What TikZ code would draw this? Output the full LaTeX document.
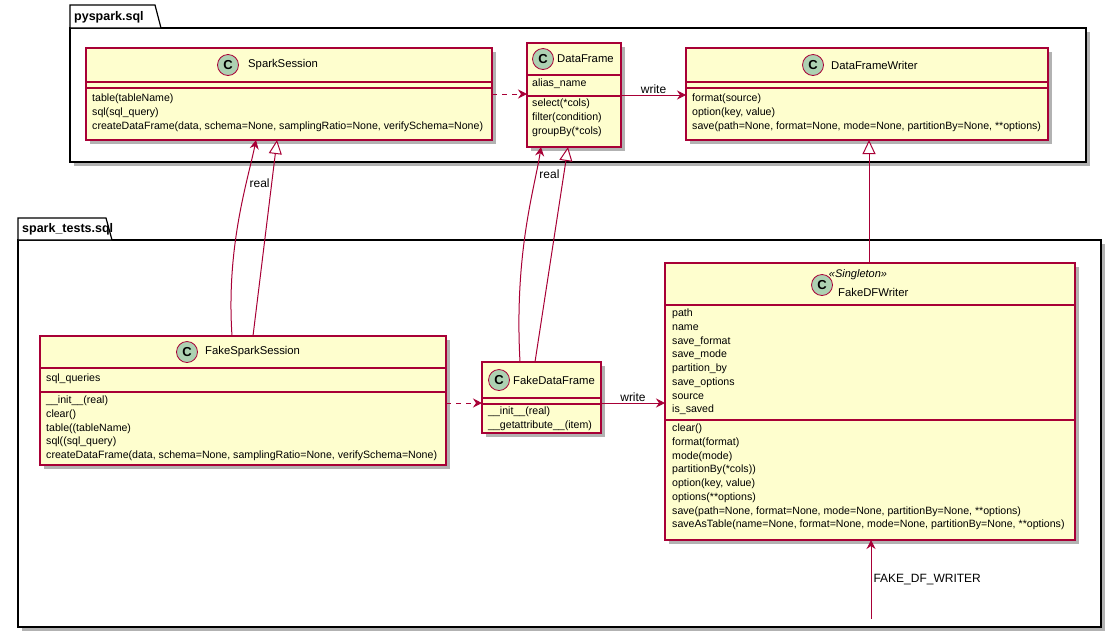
\documentclass[tikz,border=0pt]{standalone}
\usepackage{fontspec}
\setmainfont{Liberation Sans}
\usetikzlibrary{arrows.meta,calc}

\definecolor{umlred}{HTML}{A80036}
\definecolor{umlfill}{HTML}{FEFECE}
\definecolor{umlicon}{HTML}{ADD1B2}

\tikzset{
  umlbox/.style={draw=umlred, fill=umlfill, line width=1.2pt, rectangle, inner sep=0pt, outer sep=0pt},
  umlsep/.style={draw=umlred, line width=1.2pt},
  shade box/.style={fill=black!30},
  cicon/.style={circle, draw=umlred, line width=0.8pt, fill=umlicon, minimum size=21pt, inner sep=0pt, font=\bfseries\fontsize{13}{13}\selectfont},
  ctitle/.style={anchor=west, inner sep=0pt, font=\fontsize{11.3}{14}\selectfont},
  members/.style={anchor=north west, inner sep=0pt, align=left, font=\fontsize{10.6}{13.7}\selectfont},
  pkg/.style={draw=black, line width=1.2pt, fill=white},
  pkgname/.style={anchor=west, inner sep=0pt, font=\bfseries\fontsize{12.5}{14}\selectfont},
  dep/.style={draw=umlred, line width=1pt, dash pattern=on 5pt off 5pt, -{Stealth[length=9pt,width=9pt,inset=3pt]}},
  assoc/.style={draw=umlred, line width=1pt, -{Stealth[length=9pt,width=9pt,inset=3pt]}},
  extends/.style={draw=umlred, line width=1pt, -{Triangle[open,length=14pt,width=13pt,fill=white]}},
  lbl/.style={inner sep=1pt, font=\fontsize{12}{14}\selectfont},
}

\begin{document}
\begin{tikzpicture}[x=1pt,y=-1pt]
    \useasboundingbox (0,0) rectangle (1116,633);
    \fill[white] (0,0) rectangle (1116,633);

    % Packages
    \fill[shade box] (74,32) rectangle (1090,166);
    \draw[pkg] (70,28) rectangle (1086,162);
    \draw[pkg] (70,28) -- (70,5) -- (155,5) -- (161,28) -- cycle;
    \node[pkgname] at (74,17) {pyspark.sql};

    \fill[shade box] (22,244) rectangle (1105,631);
    \draw[pkg] (18,240) rectangle (1101,627);
    \draw[pkg] (18,240) -- (18,218) -- (106,218) -- (112,240) -- cycle;
    \node[pkgname] at (22,229) {spark\_tests.sql};

    % SparkSession
    \fill[shade box] (90,52) rectangle (496,144);
    \node[umlbox, anchor=north west, minimum width=406pt, minimum height=92pt] (ss) at (86,48) {};
    \node[cicon] at (228,65) {C};
    \node[ctitle] at (248,65) {SparkSession};
    \draw[umlsep] (86,82) -- (492,82) (86,88) -- (492,88);
    \node[members] at (92,94) {table(tableName)\\sql(sql\_query)\\createDataFrame(data, schema=None, samplingRatio=None, verifySchema=None)};

    % DataFrame
    \fill[shade box] (531,47) rectangle (625,151);
    \node[umlbox, anchor=north west, minimum width=94pt, minimum height=104pt] (df) at (527,43) {};
    \node[cicon] at (543,59) {C};
    \node[ctitle] at (557,59) {DataFrame};
    \draw[umlsep] (527,75) -- (621,75) (527,96) -- (621,96);
    \node[members] at (532,79) {alias\_name};
    \node[members] at (532,99) {select(*cols)\\filter(condition)\\groupBy(*cols)};

    % DataFrameWriter
    \fill[shade box] (690,52) rectangle (1052,144);
    \node[umlbox, anchor=north west, minimum width=362pt, minimum height=92pt] (dfw) at (686,48) {};
    \node[cicon] at (813,65) {C};
    \node[ctitle] at (831,65) {DataFrameWriter};
    \draw[umlsep] (686,82) -- (1048,82) (686,88) -- (1048,88);
    \node[members] at (692,94) {format(source)\\option(key, value)\\save(path=None, format=None, mode=None, partitionBy=None, **options)};

    % FakeSparkSession
    \fill[shade box] (44,340) rectangle (450,469);
    \node[umlbox, anchor=north west, minimum width=406pt, minimum height=129pt] (fss) at (40,336) {};
    \node[cicon] at (187,352) {C};
    \node[ctitle] at (205,352) {FakeSparkSession};
    \draw[umlsep] (40,368) -- (446,368) (40,392) -- (446,392);
    \node[members] at (46,374) {sql\_queries};
    \node[members] at (46,396) {\_\_init\_\_(real)\\clear()\\table((tableName)\\sql((sql\_query)\\createDataFrame(data, schema=None, samplingRatio=None, verifySchema=None)};

    % FakeDataFrame
    \fill[shade box] (486,366) rectangle (605,437);
    \node[umlbox, anchor=north west, minimum width=119pt, minimum height=71pt] (fdf) at (482,362) {};
    \node[cicon] at (499,380) {C};
    \node[ctitle] at (513,380) {FakeDataFrame};
    \draw[umlsep] (482,398) -- (601,398) (482,404) -- (601,404);
    \node[members] at (488,407) {\_\_init\_\_(real)\\\_\_getattribute\_\_(item)};

    % FakeDFWriter
    \fill[shade box] (669,267) rectangle (1079,544);
    \node[umlbox, anchor=north west, minimum width=410pt, minimum height=277pt] (fdw) at (665,263) {};
    \node[cicon] at (822,285) {C};
    \node[inner sep=0pt, font=\itshape\fontsize{11}{12}\selectfont] at (858,275) {«Singleton»};
    \node[ctitle] at (838,292) {FakeDFWriter};
    \draw[umlsep] (665,305) -- (1075,305) (665,420) -- (1075,420);
    \node[members] at (672,309) {path\\name\\save\_format\\save\_mode\\partition\_by\\save\_options\\source\\is\_saved};
    \node[members] at (672,424) {clear()\\format(format)\\mode(mode)\\partitionBy(*cols))\\option(key, value)\\options(**options)\\save(path=None, format=None, mode=None, partitionBy=None, **options)\\saveAsTable(name=None, format=None, mode=None, partitionBy=None, **options)};

    % Relations
    \draw[dep] ([yshift=-46pt]ss.north east) -- ([yshift=-51pt]df.north west);
    \draw[assoc] ([yshift=-52pt]df.north east) -- node[lbl, above] {write} ([yshift=-47pt]dfw.north west);
    \draw[dep] ([yshift=-67pt]fss.north east) -- ([yshift=-41pt]fdf.north west);
    \draw[assoc] ([yshift=-41pt]fdf.north east) -- node[lbl, above] {write} ([yshift=-140pt]fdw.north west);

    \draw[assoc] ([xshift=192pt]fss.north west) .. controls +(-6,-90) and +(-8,40) .. node[lbl, pos=0.7, right=2pt] {real} ([xshift=170pt]ss.south west);
    \draw[extends] ([xshift=213pt]fss.north west) -- ([xshift=191pt]ss.south west);
    \draw[assoc] ([xshift=38pt]fdf.north west) .. controls +(-6,-110) and +(-6,40) .. node[lbl, pos=0.8, right=2pt] {real} ([xshift=14pt]df.south west);
    \draw[extends] ([xshift=53pt]fdf.north west) -- ([xshift=41pt]df.south west);
    \draw[extends] ([xshift=204pt]fdw.north west) -- ([xshift=183pt]dfw.south west);

    \coordinate (fdwsrc) at (871,619);
    \draw[assoc] (fdwsrc) -- node[lbl, right=1pt] {FAKE\_DF\_WRITER} ([xshift=206pt]fdw.south west);
\end{tikzpicture}
\end{document}
